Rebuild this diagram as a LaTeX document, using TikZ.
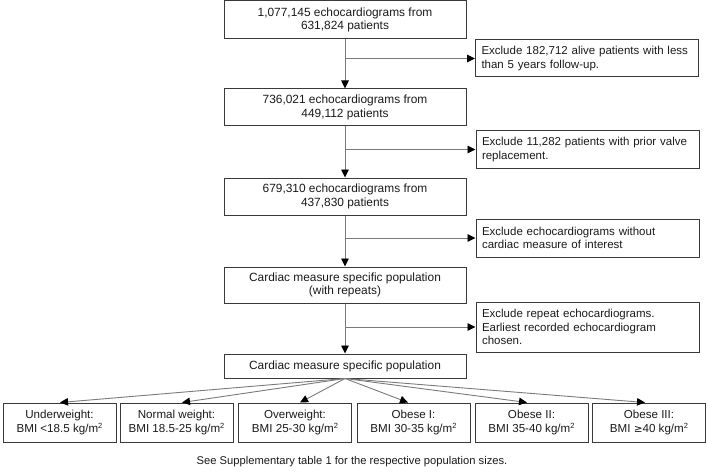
\documentclass[tikz,border=0pt]{standalone}
\usepackage{fontspec}
\setmainfont{Liberation Sans}
\newfontfamily\symfont{DejaVu Sans}
\usetikzlibrary{arrows.meta}
\definecolor{boxline}{HTML}{3A3A3A}
\definecolor{conn}{HTML}{7A7A7A}
\definecolor{txt}{HTML}{1A1A1A}
\newcommand{\sqm}{\raisebox{0.55ex}{\fontsize{7.5}{7.5}\selectfont 2}}
\begin{document}
\begin{tikzpicture}[x=1pt,y=-1pt,
  every node/.style={font=\fontsize{11.9}{13.4}\selectfont, text=txt},
  mainbox/.style={draw=boxline, line width=1pt, minimum width=242pt, align=center, inner sep=0pt},
  exbox/.style={draw=boxline, line width=1pt, align=left, inner xsep=6pt, inner ysep=0pt, text width=211pt, font=\fontsize{11.5}{13.4}\selectfont},
  bmibox/.style={draw=boxline, line width=1pt, minimum width=113pt, minimum height=39pt, align=center, inner sep=0pt, font=\fontsize{11.6}{13.6}\selectfont},
  conn/.style={draw=conn, line width=0.9pt, -{Triangle[length=8pt,width=7.5pt,fill=black,color=black]}}]
\useasboundingbox (0,0) rectangle (708,473);

\node[mainbox, minimum height=38pt] (b1) at (345,20) {1,077,145 echocardiograms from\\631,824 patients};
\node[exbox, minimum height=37pt] (e1) at (587,58.5) {Exclude 182,712 alive patients with less\\than 5 years follow-up.};
\node[mainbox, minimum height=37pt] (b2) at (345,107.5) {736,021 echocardiograms from\\449,112 patients};
\node[exbox, minimum height=37pt] (e2) at (587.5,149.5) {Exclude 11,282 patients with prior valve\\replacement.};
\node[mainbox, minimum height=37pt] (b3) at (345,196.5) {679,310 echocardiograms from\\437,830 patients};
\node[exbox, minimum height=38pt] (e3) at (587.5,238) {Exclude echocardiograms without\\cardiac measure of interest};
\node[mainbox, minimum height=36pt] (b4) at (345,285) {Cardiac measure specific population\\(with repeats)};
\node[exbox, minimum height=50pt] (e4) at (587.5,327) {Exclude repeat echocardiograms.\\Earliest recorded echocardiogram\\chosen.};
\node[mainbox, minimum height=24pt] (b5) at (345,366) {Cardiac measure specific population};

\node[bmibox] (c1) at (59.5,422.5) {Underweight:\\BMI <18.5 kg/m\sqm};
\node[bmibox] (c2) at (176.5,422.5) {Normal weight:\\BMI 18.5-25 kg/m\sqm};
\node[bmibox] (c3) at (295,422.5) {Overweight:\\BMI 25-30 kg/m\sqm};
\node[bmibox] (c4) at (413.5,422.5) {Obese I:\\BMI 30-35 kg/m\sqm};
\node[bmibox] (c5) at (531.5,422.5) {Obese II:\\BMI 35-40 kg/m\sqm};
\node[bmibox] (c6) at (649,422.5) {Obese III:\\BMI {\symfont\fontsize{10.5}{13}\selectfont ≥}40 kg/m\sqm};

\node[font=\fontsize{11.2}{13}\selectfont] (foot) at (352,462) {See Supplementary table 1 for the respective population sizes.};

\draw[conn] (b1) -- (b2);
\draw[conn] (b1.south |- e1.west) -- (e1.west);
\draw[conn] (b2) -- (b3);
\draw[conn] (b2.south |- e2.west) -- (e2.west);
\draw[conn] (b3) -- (b4);
\draw[conn] (b3.south |- e3.west) -- (e3.west);
\draw[conn] (b4) -- (b5);
\draw[conn] (b4.south |- e4.west) -- (e4.west);

\draw[conn] (b5.south) -- ([xshift=0.5pt]c1.north);
\draw[conn] (b5.south) -- ([xshift=5.5pt]c2.north);
\draw[conn] (b5.south) -- ([xshift=5pt]c3.north);
\draw[conn] (b5.south) -- ([xshift=-5.5pt]c4.north);
\draw[conn] (b5.south) -- ([xshift=-4.5pt]c5.north);
\draw[conn] (b5.south) -- ([xshift=-4pt]c6.north);
\end{tikzpicture}
\end{document}
